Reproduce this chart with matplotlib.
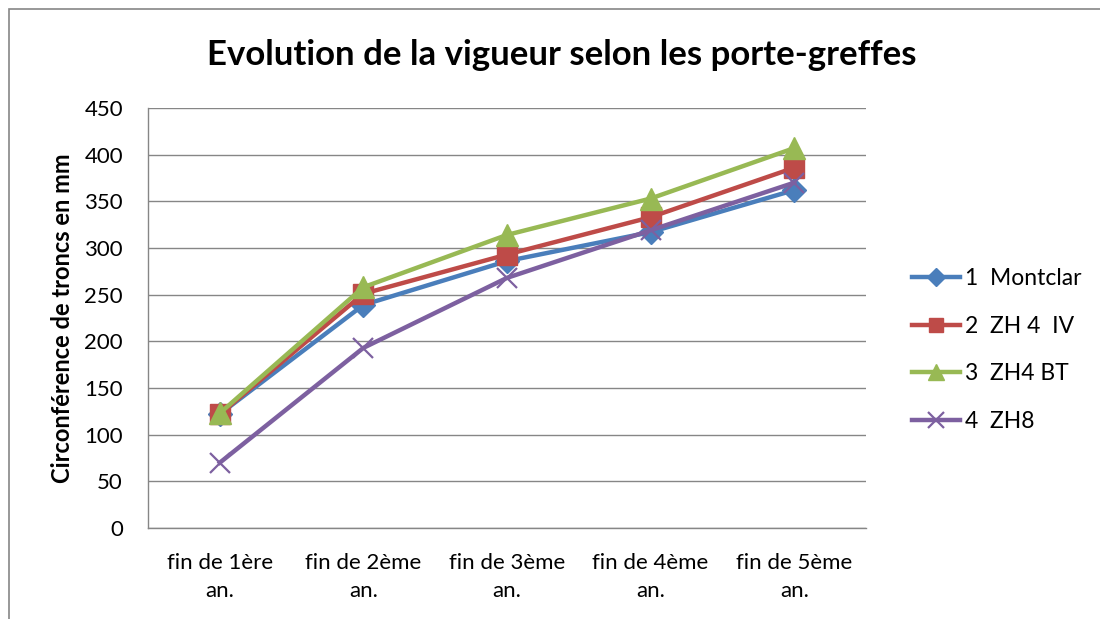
import matplotlib
matplotlib.use("Agg")
import matplotlib.pyplot as plt
from matplotlib.patches import Rectangle

categories = ["fin de 1ère\nan.", "fin de 2ème\nan.", "fin de 3ème\nan.",
              "fin de 4ème\nan.", "fin de 5ème\nan."]
montclar = [122, 239, 286, 317, 362]
zh4_iv = [122, 251, 293, 333, 386]
zh4_bt = [123, 258, 314, 353, 407]
zh8 = [70, 193, 268, 319, 370]
series_names = ["1  Montclar", "2  ZH 4  IV", "3  ZH4 BT", "4  ZH8"]
y_ticks = [0, 50, 100, 150, 200, 250, 300, 350, 400, 450]

plt.rcParams['font.family'] = ['Lato', 'DejaVu Sans']

fig = plt.figure(figsize=(11, 6.19), dpi=100)
fig.patch.set_facecolor("white")
# chart border
fig.add_artist(Rectangle((9/1100, -0.01), 1.2, 1 - 9/619 + 0.01, transform=fig.transFigure,
                         fill=False, edgecolor="#868686", linewidth=1.2))

ax = fig.add_axes([148/1100, 1 - 528/619, (866-148)/1100, (528-108)/619])
x = list(range(len(categories)))

styles = [
    (montclar, "#4A7EBB", "D", 12),
    (zh4_iv, "#BE4B48", "s", 14),
    (zh4_bt, "#98B954", "^", 16),
    (zh8, "#7D60A0", "x", 15),
]
for (vals, col, mk, ms), name in zip(styles, series_names):
    ax.plot(x, vals, color=col, linewidth=3.2, marker=mk, markersize=ms,
            markeredgecolor=col, markerfacecolor=col,
            markeredgewidth=1.6 if mk == "x" else 1, label=name, zorder=3)

ax.set_xlim(-0.5, len(categories) - 0.5)
ax.set_ylim(0, 450)
ax.set_yticks(y_ticks)
ax.set_xticks(x)
ax.set_xticklabels(categories, fontsize=16, linespacing=1.5)
ax.tick_params(axis="y", labelsize=16, length=0, pad=18)
ax.tick_params(axis="x", length=0, pad=18)
ax.yaxis.grid(True, color="#868686", linewidth=1)
ax.set_axisbelow(True)
for s in ["top", "right"]:
    ax.spines[s].set_visible(False)
for s in ["left", "bottom"]:
    ax.spines[s].set_color("#868686")
    ax.spines[s].set_linewidth(1)

ax.set_ylabel("Circonférence de troncs en mm", fontsize=17, fontweight="bold")
ax.yaxis.set_label_coords(-0.103, 0.5)

fig.text(0.511, 1 - 55/619, "Evolution de la vigueur selon les porte-greffes",
         ha="center", va="center", fontsize=25, fontweight="bold")

leg = fig.legend(loc="center left", bbox_to_anchor=(903/1100, 1 - 350/619),
                 frameon=False, fontsize=16.5, handlelength=2.1, labelspacing=1.15,
                 handletextpad=0.2, borderaxespad=0, markerscale=0.75)

fig.savefig("out.png", dpi=100, facecolor="white")
